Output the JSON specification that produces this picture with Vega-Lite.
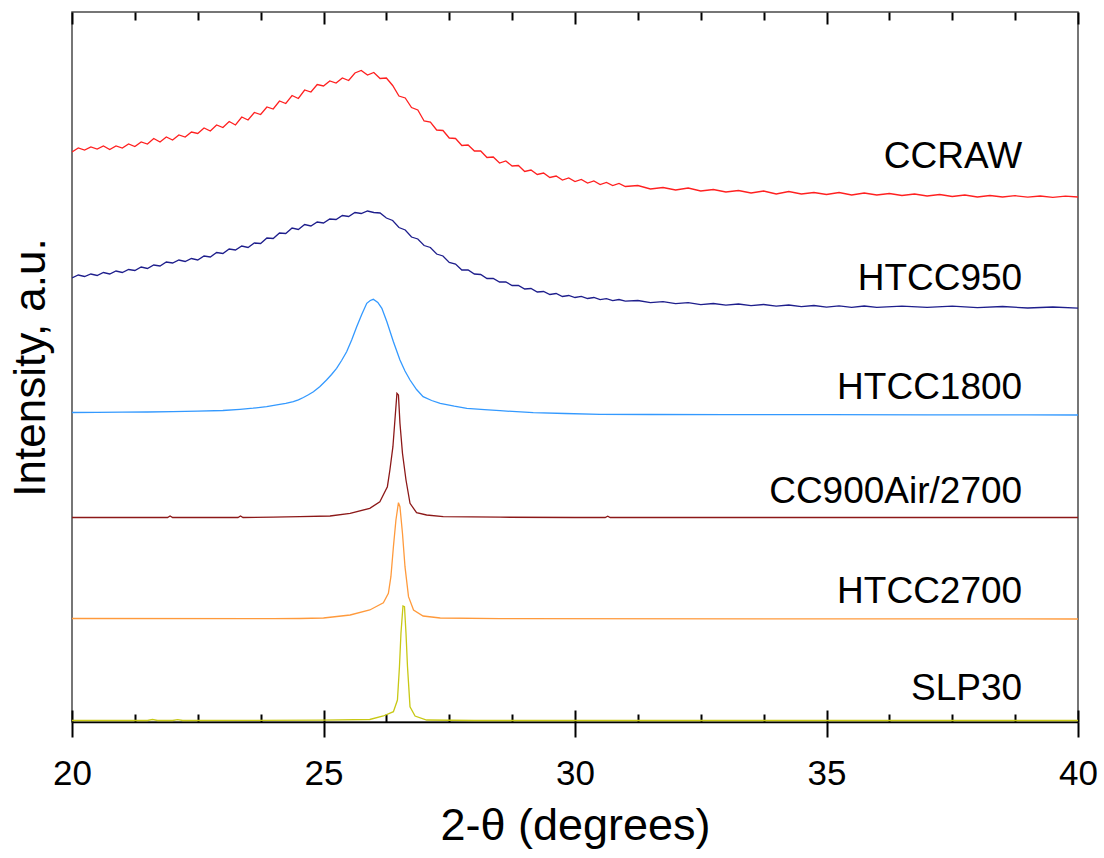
{
"$schema": "https://vega.github.io/schema/vega-lite/v6.json",
"width": 1006, "height": 710,
"autosize": {"type": "none"},
"padding": {"left": 72, "top": 12, "right": 26, "bottom": 136},
"background": "white",
"config": {"view": {"stroke": "#4a4a4a", "strokeWidth": 1.5}, "font": "Liberation Sans", "axis": {"grid": false}},
"data": {"values": [
{"s":"CCRAW","d":20.0,"v":570},{"s":"CCRAW","d":20.125,"v":574},{"s":"CCRAW","d":20.25,"v":572},{"s":"CCRAW","d":20.375,"v":575},{"s":"CCRAW","d":20.5,"v":573},{"s":"CCRAW","d":20.625,"v":576},{"s":"CCRAW","d":20.75,"v":572.5},{"s":"CCRAW","d":20.875,"v":576},{"s":"CCRAW","d":21.0,"v":574},{"s":"CCRAW","d":21.125,"v":578},{"s":"CCRAW","d":21.25,"v":575.5},{"s":"CCRAW","d":21.375,"v":580},{"s":"CCRAW","d":21.5,"v":578},{"s":"CCRAW","d":21.625,"v":583.5},{"s":"CCRAW","d":21.75,"v":580},{"s":"CCRAW","d":21.875,"v":585},{"s":"CCRAW","d":22.0,"v":582},{"s":"CCRAW","d":22.125,"v":587},{"s":"CCRAW","d":22.25,"v":585},{"s":"CCRAW","d":22.375,"v":590},{"s":"CCRAW","d":22.5,"v":588.5},{"s":"CCRAW","d":22.625,"v":594},{"s":"CCRAW","d":22.75,"v":591},{"s":"CCRAW","d":22.875,"v":597},{"s":"CCRAW","d":23.0,"v":594.5},{"s":"CCRAW","d":23.125,"v":600.5},{"s":"CCRAW","d":23.25,"v":597},{"s":"CCRAW","d":23.375,"v":605},{"s":"CCRAW","d":23.5,"v":602},{"s":"CCRAW","d":23.625,"v":609.5},{"s":"CCRAW","d":23.75,"v":607.5},{"s":"CCRAW","d":23.875,"v":615},{"s":"CCRAW","d":24.0,"v":613},{"s":"CCRAW","d":24.125,"v":621},{"s":"CCRAW","d":24.25,"v":618.5},{"s":"CCRAW","d":24.375,"v":626.5},{"s":"CCRAW","d":24.5,"v":623.5},{"s":"CCRAW","d":24.625,"v":632},{"s":"CCRAW","d":24.75,"v":630},{"s":"CCRAW","d":24.875,"v":637.5},{"s":"CCRAW","d":25.0,"v":636},{"s":"CCRAW","d":25.125,"v":641},{"s":"CCRAW","d":25.25,"v":639},{"s":"CCRAW","d":25.375,"v":644},{"s":"CCRAW","d":25.5,"v":641.5},{"s":"CCRAW","d":25.625,"v":649},{"s":"CCRAW","d":25.75,"v":651.5},{"s":"CCRAW","d":25.875,"v":647},{"s":"CCRAW","d":26.0,"v":649.5},{"s":"CCRAW","d":26.125,"v":643.5},{"s":"CCRAW","d":26.25,"v":644},{"s":"CCRAW","d":26.375,"v":636.5},{"s":"CCRAW","d":26.5,"v":626},{"s":"CCRAW","d":26.625,"v":624},{"s":"CCRAW","d":26.75,"v":614.5},{"s":"CCRAW","d":26.875,"v":612},{"s":"CCRAW","d":27.0,"v":601},{"s":"CCRAW","d":27.125,"v":600},{"s":"CCRAW","d":27.25,"v":592},{"s":"CCRAW","d":27.375,"v":591.5},{"s":"CCRAW","d":27.5,"v":584},{"s":"CCRAW","d":27.625,"v":583.5},{"s":"CCRAW","d":27.75,"v":576.5},{"s":"CCRAW","d":27.875,"v":577},{"s":"CCRAW","d":28.0,"v":571},{"s":"CCRAW","d":28.125,"v":571},{"s":"CCRAW","d":28.25,"v":564.5},{"s":"CCRAW","d":28.375,"v":565},{"s":"CCRAW","d":28.5,"v":559},{"s":"CCRAW","d":28.625,"v":561},{"s":"CCRAW","d":28.75,"v":556},{"s":"CCRAW","d":28.875,"v":556.5},{"s":"CCRAW","d":29.0,"v":550.5},{"s":"CCRAW","d":29.125,"v":552},{"s":"CCRAW","d":29.25,"v":547.5},{"s":"CCRAW","d":29.375,"v":549},{"s":"CCRAW","d":29.5,"v":544.5},{"s":"CCRAW","d":29.625,"v":546},{"s":"CCRAW","d":29.75,"v":542},{"s":"CCRAW","d":29.875,"v":544},{"s":"CCRAW","d":30.0,"v":540.5},{"s":"CCRAW","d":30.125,"v":542.5},{"s":"CCRAW","d":30.25,"v":539},{"s":"CCRAW","d":30.375,"v":541},{"s":"CCRAW","d":30.5,"v":537.5},{"s":"CCRAW","d":30.625,"v":539.5},{"s":"CCRAW","d":30.75,"v":536.5},{"s":"CCRAW","d":30.875,"v":538.5},{"s":"CCRAW","d":31.0,"v":535.5},{"s":"CCRAW","d":31.25,"v":536.5},{"s":"CCRAW","d":31.5,"v":533},{"s":"CCRAW","d":31.75,"v":534.5},{"s":"CCRAW","d":32.0,"v":532},{"s":"CCRAW","d":32.25,"v":534},{"s":"CCRAW","d":32.5,"v":531},{"s":"CCRAW","d":32.75,"v":532.5},{"s":"CCRAW","d":33.0,"v":530},{"s":"CCRAW","d":33.25,"v":531.5},{"s":"CCRAW","d":33.5,"v":529},{"s":"CCRAW","d":33.75,"v":531},{"s":"CCRAW","d":34.0,"v":528},{"s":"CCRAW","d":34.25,"v":530.5},{"s":"CCRAW","d":34.5,"v":528},{"s":"CCRAW","d":34.75,"v":529.5},{"s":"CCRAW","d":35.0,"v":527.5},{"s":"CCRAW","d":35.25,"v":529.5},{"s":"CCRAW","d":35.5,"v":527},{"s":"CCRAW","d":35.75,"v":529},{"s":"CCRAW","d":36.0,"v":527},{"s":"CCRAW","d":36.25,"v":528.5},{"s":"CCRAW","d":36.5,"v":526.5},{"s":"CCRAW","d":36.75,"v":528},{"s":"CCRAW","d":37.0,"v":526},{"s":"CCRAW","d":37.25,"v":527.5},{"s":"CCRAW","d":37.5,"v":525.5},{"s":"CCRAW","d":37.75,"v":527},{"s":"CCRAW","d":38.0,"v":525},{"s":"CCRAW","d":38.25,"v":526.5},{"s":"CCRAW","d":38.5,"v":525},{"s":"CCRAW","d":38.75,"v":526.3},{"s":"CCRAW","d":39.0,"v":524.8},{"s":"CCRAW","d":39.25,"v":526},{"s":"CCRAW","d":39.5,"v":524.7},{"s":"CCRAW","d":39.75,"v":525.8},{"s":"CCRAW","d":40.0,"v":525},
{"s":"HTCC950","d":20.0,"v":444},{"s":"HTCC950","d":20.125,"v":447},{"s":"HTCC950","d":20.25,"v":445.5},{"s":"HTCC950","d":20.375,"v":448},{"s":"HTCC950","d":20.5,"v":446.5},{"s":"HTCC950","d":20.625,"v":449.5},{"s":"HTCC950","d":20.75,"v":448},{"s":"HTCC950","d":20.875,"v":451},{"s":"HTCC950","d":21.0,"v":449.5},{"s":"HTCC950","d":21.125,"v":452.5},{"s":"HTCC950","d":21.25,"v":451.5},{"s":"HTCC950","d":21.375,"v":455},{"s":"HTCC950","d":21.5,"v":453.5},{"s":"HTCC950","d":21.625,"v":457},{"s":"HTCC950","d":21.75,"v":456},{"s":"HTCC950","d":21.875,"v":460},{"s":"HTCC950","d":22.0,"v":459},{"s":"HTCC950","d":22.125,"v":462},{"s":"HTCC950","d":22.25,"v":460.5},{"s":"HTCC950","d":22.375,"v":463.5},{"s":"HTCC950","d":22.5,"v":462},{"s":"HTCC950","d":22.625,"v":466},{"s":"HTCC950","d":22.75,"v":465},{"s":"HTCC950","d":22.875,"v":469.5},{"s":"HTCC950","d":23.0,"v":468.5},{"s":"HTCC950","d":23.125,"v":473},{"s":"HTCC950","d":23.25,"v":472},{"s":"HTCC950","d":23.375,"v":476},{"s":"HTCC950","d":23.5,"v":474.5},{"s":"HTCC950","d":23.625,"v":479},{"s":"HTCC950","d":23.75,"v":478.5},{"s":"HTCC950","d":23.875,"v":484},{"s":"HTCC950","d":24.0,"v":483.5},{"s":"HTCC950","d":24.125,"v":489},{"s":"HTCC950","d":24.25,"v":488.5},{"s":"HTCC950","d":24.375,"v":494},{"s":"HTCC950","d":24.5,"v":492.5},{"s":"HTCC950","d":24.625,"v":497.5},{"s":"HTCC950","d":24.75,"v":496},{"s":"HTCC950","d":24.875,"v":500},{"s":"HTCC950","d":25.0,"v":499},{"s":"HTCC950","d":25.125,"v":503},{"s":"HTCC950","d":25.25,"v":502.5},{"s":"HTCC950","d":25.375,"v":506.5},{"s":"HTCC950","d":25.5,"v":505.5},{"s":"HTCC950","d":25.625,"v":509.5},{"s":"HTCC950","d":25.75,"v":508.5},{"s":"HTCC950","d":25.875,"v":511},{"s":"HTCC950","d":26.0,"v":509.5},{"s":"HTCC950","d":26.125,"v":509},{"s":"HTCC950","d":26.25,"v":504},{"s":"HTCC950","d":26.375,"v":501.5},{"s":"HTCC950","d":26.5,"v":494.5},{"s":"HTCC950","d":26.625,"v":492},{"s":"HTCC950","d":26.75,"v":485},{"s":"HTCC950","d":26.875,"v":483},{"s":"HTCC950","d":27.0,"v":476.5},{"s":"HTCC950","d":27.125,"v":474.5},{"s":"HTCC950","d":27.25,"v":468},{"s":"HTCC950","d":27.375,"v":466},{"s":"HTCC950","d":27.5,"v":459.5},{"s":"HTCC950","d":27.625,"v":458},{"s":"HTCC950","d":27.75,"v":452},{"s":"HTCC950","d":27.875,"v":452},{"s":"HTCC950","d":28.0,"v":448},{"s":"HTCC950","d":28.125,"v":447.5},{"s":"HTCC950","d":28.25,"v":443.5},{"s":"HTCC950","d":28.375,"v":443.5},{"s":"HTCC950","d":28.5,"v":440},{"s":"HTCC950","d":28.625,"v":440},{"s":"HTCC950","d":28.75,"v":436.5},{"s":"HTCC950","d":28.875,"v":436.5},{"s":"HTCC950","d":29.0,"v":433},{"s":"HTCC950","d":29.125,"v":433.5},{"s":"HTCC950","d":29.25,"v":430},{"s":"HTCC950","d":29.375,"v":430.5},{"s":"HTCC950","d":29.5,"v":427.5},{"s":"HTCC950","d":29.625,"v":428.5},{"s":"HTCC950","d":29.75,"v":425.5},{"s":"HTCC950","d":29.875,"v":426.5},{"s":"HTCC950","d":30.0,"v":424.5},{"s":"HTCC950","d":30.125,"v":425.7},{"s":"HTCC950","d":30.25,"v":423.5},{"s":"HTCC950","d":30.375,"v":424.5},{"s":"HTCC950","d":30.5,"v":422.3},{"s":"HTCC950","d":30.625,"v":423.3},{"s":"HTCC950","d":30.75,"v":421.3},{"s":"HTCC950","d":30.875,"v":422.5},{"s":"HTCC950","d":31.0,"v":420.8},{"s":"HTCC950","d":31.25,"v":421.5},{"s":"HTCC950","d":31.5,"v":419.3},{"s":"HTCC950","d":31.75,"v":420.3},{"s":"HTCC950","d":32.0,"v":418.3},{"s":"HTCC950","d":32.25,"v":419.3},{"s":"HTCC950","d":32.5,"v":417.4},{"s":"HTCC950","d":32.75,"v":418.5},{"s":"HTCC950","d":33.0,"v":416.8},{"s":"HTCC950","d":33.25,"v":418},{"s":"HTCC950","d":33.5,"v":416.3},{"s":"HTCC950","d":33.75,"v":417.5},{"s":"HTCC950","d":34.0,"v":415.8},{"s":"HTCC950","d":34.25,"v":417},{"s":"HTCC950","d":34.5,"v":415.4},{"s":"HTCC950","d":34.75,"v":416.5},{"s":"HTCC950","d":35.0,"v":414.9},{"s":"HTCC950","d":35.25,"v":416.2},{"s":"HTCC950","d":35.5,"v":414.7},{"s":"HTCC950","d":35.75,"v":416},{"s":"HTCC950","d":36.0,"v":414.6},{"s":"HTCC950","d":36.5,"v":415.9},{"s":"HTCC950","d":37.0,"v":414.6},{"s":"HTCC950","d":37.5,"v":415.8},{"s":"HTCC950","d":38.0,"v":414.4},{"s":"HTCC950","d":38.5,"v":415.5},{"s":"HTCC950","d":39.0,"v":414},{"s":"HTCC950","d":39.5,"v":415},{"s":"HTCC950","d":40.0,"v":413.8},
{"s":"HTCC1800","d":20.0,"v":309.5},{"s":"HTCC1800","d":20.5,"v":309.6},{"s":"HTCC1800","d":21.0,"v":309.8},{"s":"HTCC1800","d":21.5,"v":310},{"s":"HTCC1800","d":22.0,"v":310.3},{"s":"HTCC1800","d":22.5,"v":310.8},{"s":"HTCC1800","d":23.0,"v":311.5},{"s":"HTCC1800","d":23.34,"v":312.7},{"s":"HTCC1800","d":23.6,"v":313.8},{"s":"HTCC1800","d":23.87,"v":315.3},{"s":"HTCC1800","d":24.1,"v":317.3},{"s":"HTCC1800","d":24.25,"v":318.6},{"s":"HTCC1800","d":24.4,"v":320.3},{"s":"HTCC1800","d":24.5,"v":322.2},{"s":"HTCC1800","d":24.6,"v":324.5},{"s":"HTCC1800","d":24.7,"v":327.2},{"s":"HTCC1800","d":24.8,"v":330.3},{"s":"HTCC1800","d":24.93,"v":335.5},{"s":"HTCC1800","d":25.06,"v":342},{"s":"HTCC1800","d":25.16,"v":347.5},{"s":"HTCC1800","d":25.26,"v":353.7},{"s":"HTCC1800","d":25.36,"v":361.5},{"s":"HTCC1800","d":25.46,"v":370.3},{"s":"HTCC1800","d":25.56,"v":382},{"s":"HTCC1800","d":25.66,"v":395.3},{"s":"HTCC1800","d":25.76,"v":407.5},{"s":"HTCC1800","d":25.86,"v":418.7},{"s":"HTCC1800","d":25.93,"v":421.5},{"s":"HTCC1800","d":25.99,"v":422.7},{"s":"HTCC1800","d":26.08,"v":419.5},{"s":"HTCC1800","d":26.16,"v":413.7},{"s":"HTCC1800","d":26.26,"v":400.3},{"s":"HTCC1800","d":26.39,"v":380.3},{"s":"HTCC1800","d":26.52,"v":362},{"s":"HTCC1800","d":26.62,"v":351},{"s":"HTCC1800","d":26.72,"v":342},{"s":"HTCC1800","d":26.85,"v":332.5},{"s":"HTCC1800","d":26.98,"v":325.3},{"s":"HTCC1800","d":27.15,"v":321.5},{"s":"HTCC1800","d":27.32,"v":318.7},{"s":"HTCC1800","d":27.6,"v":315.8},{"s":"HTCC1800","d":27.85,"v":313.7},{"s":"HTCC1800","d":28.2,"v":312.3},{"s":"HTCC1800","d":28.51,"v":311.3},{"s":"HTCC1800","d":29.17,"v":309.3},{"s":"HTCC1800","d":29.8,"v":308.5},{"s":"HTCC1800","d":30.5,"v":307.7},{"s":"HTCC1800","d":31.5,"v":307.5},{"s":"HTCC1800","d":33.0,"v":307.3},{"s":"HTCC1800","d":35.0,"v":307.3},{"s":"HTCC1800","d":37.0,"v":307.2},{"s":"HTCC1800","d":39.0,"v":307.1},{"s":"HTCC1800","d":40.0,"v":307},
{"s":"CC900Air/2700","d":20.0,"v":204.5},{"s":"CC900Air/2700","d":21.9,"v":204.5},{"s":"CC900Air/2700","d":21.95,"v":206},{"s":"CC900Air/2700","d":22.0,"v":204.5},{"s":"CC900Air/2700","d":23.3,"v":204.5},{"s":"CC900Air/2700","d":23.35,"v":206},{"s":"CC900Air/2700","d":23.4,"v":204.5},{"s":"CC900Air/2700","d":24.0,"v":204.8},{"s":"CC900Air/2700","d":24.53,"v":205.3},{"s":"CC900Air/2700","d":25.13,"v":206},{"s":"CC900Air/2700","d":25.53,"v":208.7},{"s":"CC900Air/2700","d":25.92,"v":213.7},{"s":"CC900Air/2700","d":26.12,"v":220.3},{"s":"CC900Air/2700","d":26.27,"v":235.3},{"s":"CC900Air/2700","d":26.32,"v":252},{"s":"CC900Air/2700","d":26.38,"v":275.3},{"s":"CC900Air/2700","d":26.42,"v":302},{"s":"CC900Air/2700","d":26.46,"v":328.7},{"s":"CC900Air/2700","d":26.49,"v":327},{"s":"CC900Air/2700","d":26.52,"v":298.7},{"s":"CC900Air/2700","d":26.57,"v":268.7},{"s":"CC900Air/2700","d":26.64,"v":242},{"s":"CC900Air/2700","d":26.72,"v":218.7},{"s":"CC900Air/2700","d":26.85,"v":209.3},{"s":"CC900Air/2700","d":27.05,"v":207},{"s":"CC900Air/2700","d":27.38,"v":205.3},{"s":"CC900Air/2700","d":28.51,"v":204.8},{"s":"CC900Air/2700","d":30.0,"v":204.5},{"s":"CC900Air/2700","d":30.6,"v":204.5},{"s":"CC900Air/2700","d":30.65,"v":205.8},{"s":"CC900Air/2700","d":30.7,"v":204.5},{"s":"CC900Air/2700","d":40.0,"v":204.5},
{"s":"HTCC2700","d":20.0,"v":103.5},{"s":"HTCC2700","d":24.0,"v":103.3},{"s":"HTCC2700","d":24.53,"v":103.5},{"s":"HTCC2700","d":25.0,"v":104},{"s":"HTCC2700","d":25.53,"v":107},{"s":"HTCC2700","d":25.92,"v":112},{"s":"HTCC2700","d":26.19,"v":119.3},{"s":"HTCC2700","d":26.29,"v":128.7},{"s":"HTCC2700","d":26.34,"v":145.3},{"s":"HTCC2700","d":26.39,"v":175.3},{"s":"HTCC2700","d":26.44,"v":202},{"s":"HTCC2700","d":26.49,"v":219.3},{"s":"HTCC2700","d":26.52,"v":215.3},{"s":"HTCC2700","d":26.57,"v":188.7},{"s":"HTCC2700","d":26.62,"v":155.3},{"s":"HTCC2700","d":26.69,"v":125.3},{"s":"HTCC2700","d":26.79,"v":112},{"s":"HTCC2700","d":26.98,"v":106},{"s":"HTCC2700","d":27.32,"v":104},{"s":"HTCC2700","d":28.51,"v":103.3},{"s":"HTCC2700","d":40.0,"v":103},
{"s":"SLP30","d":20.0,"v":1.5},{"s":"SLP30","d":21.5,"v":1.5},{"s":"SLP30","d":21.6,"v":2.5},{"s":"SLP30","d":21.7,"v":1.5},{"s":"SLP30","d":22.0,"v":1.5},{"s":"SLP30","d":22.1,"v":2.3},{"s":"SLP30","d":22.2,"v":1.5},{"s":"SLP30","d":25.0,"v":1.8},{"s":"SLP30","d":25.92,"v":2.5},{"s":"SLP30","d":26.19,"v":6},{"s":"SLP30","d":26.39,"v":10.3},{"s":"SLP30","d":26.47,"v":22},{"s":"SLP30","d":26.51,"v":55.3},{"s":"SLP30","d":26.54,"v":88.7},{"s":"SLP30","d":26.58,"v":116},{"s":"SLP30","d":26.61,"v":115.3},{"s":"SLP30","d":26.64,"v":88.7},{"s":"SLP30","d":26.67,"v":55.3},{"s":"SLP30","d":26.72,"v":15.3},{"s":"SLP30","d":26.82,"v":6},{"s":"SLP30","d":27.05,"v":2},{"s":"SLP30","d":28.0,"v":1.5},{"s":"SLP30","d":40.0,"v":1.5}
]},
"encoding": {
  "y": {"field": "v", "type": "quantitative", "scale": {"domain": [0, 710], "nice": false, "zero": false},
        "axis": {"title": "Intensity, a.u.", "labels": false, "ticks": false, "domain": false, "grid": false, "titleFontSize": 44, "titleFont": "Liberation Sans", "titleFontWeight": "normal", "titleColor": "black", "titlePadding": 19}}
},
"layer": [
  {"transform": [{"filter": {"field": "s", "oneOf": ["CCRAW", "HTCC950"]}}],
   "mark": {"type": "line", "strokeWidth": 1.3, "clip": true},
   "encoding": {
     "x": {"field": "d", "type": "quantitative", "scale": {"domain": [20, 40], "nice": false, "zero": false},
           "axis": {"orient": "bottom", "values": [20, 25, 30, 35, 40], "tickSize": 15, "tickWidth": 2, "tickColor": "black", "domainColor": "black", "domainWidth": 1.5, "labelFontSize": 35, "labelColor": "black", "labelFont": "Liberation Sans", "labelPadding": 19, "labelFlush": false, "labelOverlap": false, "title": "2-θ (degrees)", "titleFont": "Liberation Sans", "titleFontSize": 45, "titleFontWeight": "normal", "titleColor": "black", "titlePadding": 12, "grid": false}},
     "color": {"field": "s", "type": "nominal", "scale": {"domain": ["CCRAW", "HTCC950", "HTCC1800", "CC900Air/2700", "HTCC2700", "SLP30"], "range": ["#ff2020", "#1e1e8c", "#3399ff", "#8c1818", "#ff9a3c", "#c8c814"]}, "legend": null}
   }},
  {"transform": [{"filter": {"field": "s", "oneOf": ["HTCC1800", "CC900Air/2700"]}}],
   "mark": {"type": "line", "strokeWidth": 1.3, "clip": true},
   "encoding": {
     "x": {"field": "d", "type": "quantitative", "scale": {"domain": [20, 40], "nice": false, "zero": false},
           "axis": {"orient": "bottom", "values": [20, 25, 30, 35, 40], "tickSize": -12, "tickWidth": 2, "tickColor": "black", "labels": false, "domain": false, "title": null, "grid": false}},
     "color": {"field": "s", "type": "nominal", "legend": null}
   }},
  {"transform": [{"filter": {"field": "s", "equal": "HTCC2700"}}],
   "mark": {"type": "line", "strokeWidth": 1.3, "clip": true},
   "encoding": {
     "x": {"field": "d", "type": "quantitative", "scale": {"domain": [20, 40], "nice": false, "zero": false},
           "axis": {"orient": "bottom", "values": [21.25, 22.5, 23.75, 26.25, 27.5, 28.75, 31.25, 32.5, 33.75, 36.25, 37.5, 38.75], "tickSize": -8, "tickWidth": 2, "tickColor": "black", "labels": false, "domain": false, "title": null, "grid": false}},
     "color": {"field": "s", "type": "nominal", "legend": null}
   }},
  {"transform": [{"filter": {"field": "s", "equal": "SLP30"}}],
   "mark": {"type": "line", "strokeWidth": 1.3, "clip": true},
   "encoding": {
     "x": {"field": "d", "type": "quantitative", "scale": {"domain": [20, 40], "nice": false, "zero": false},
           "axis": {"orient": "top", "values": [20, 25, 30, 35, 40], "tickSize": -12, "tickWidth": 2, "tickColor": "black", "labels": false, "domain": false, "title": null, "grid": false}},
     "color": {"field": "s", "type": "nominal", "legend": null}
   }},
  {"data": {"values": [
     {"label": "CCRAW", "v": 554},
     {"label": "HTCC950", "v": 431.7},
     {"label": "HTCC1800", "v": 323.4},
     {"label": "CC900Air/2700", "v": 219.3},
     {"label": "HTCC2700", "v": 119},
     {"label": "SLP30", "v": 22.2}
   ]},
   "mark": {"type": "text", "align": "right", "baseline": "alphabetic", "fontSize": 37, "font": "Liberation Sans", "color": "black"},
   "encoding": {
     "x": {"datum": 38.89, "type": "quantitative", "scale": {"domain": [20, 40], "nice": false, "zero": false},
           "axis": {"orient": "top", "values": [21.25, 22.5, 23.75, 26.25, 27.5, 28.75, 31.25, 32.5, 33.75, 36.25, 37.5, 38.75], "tickSize": -8, "tickWidth": 2, "tickColor": "black", "labels": false, "domain": false, "title": null, "grid": false}},
     "text": {"field": "label"}
   }}
],
"resolve": {"axis": {"x": "independent"}}
}
